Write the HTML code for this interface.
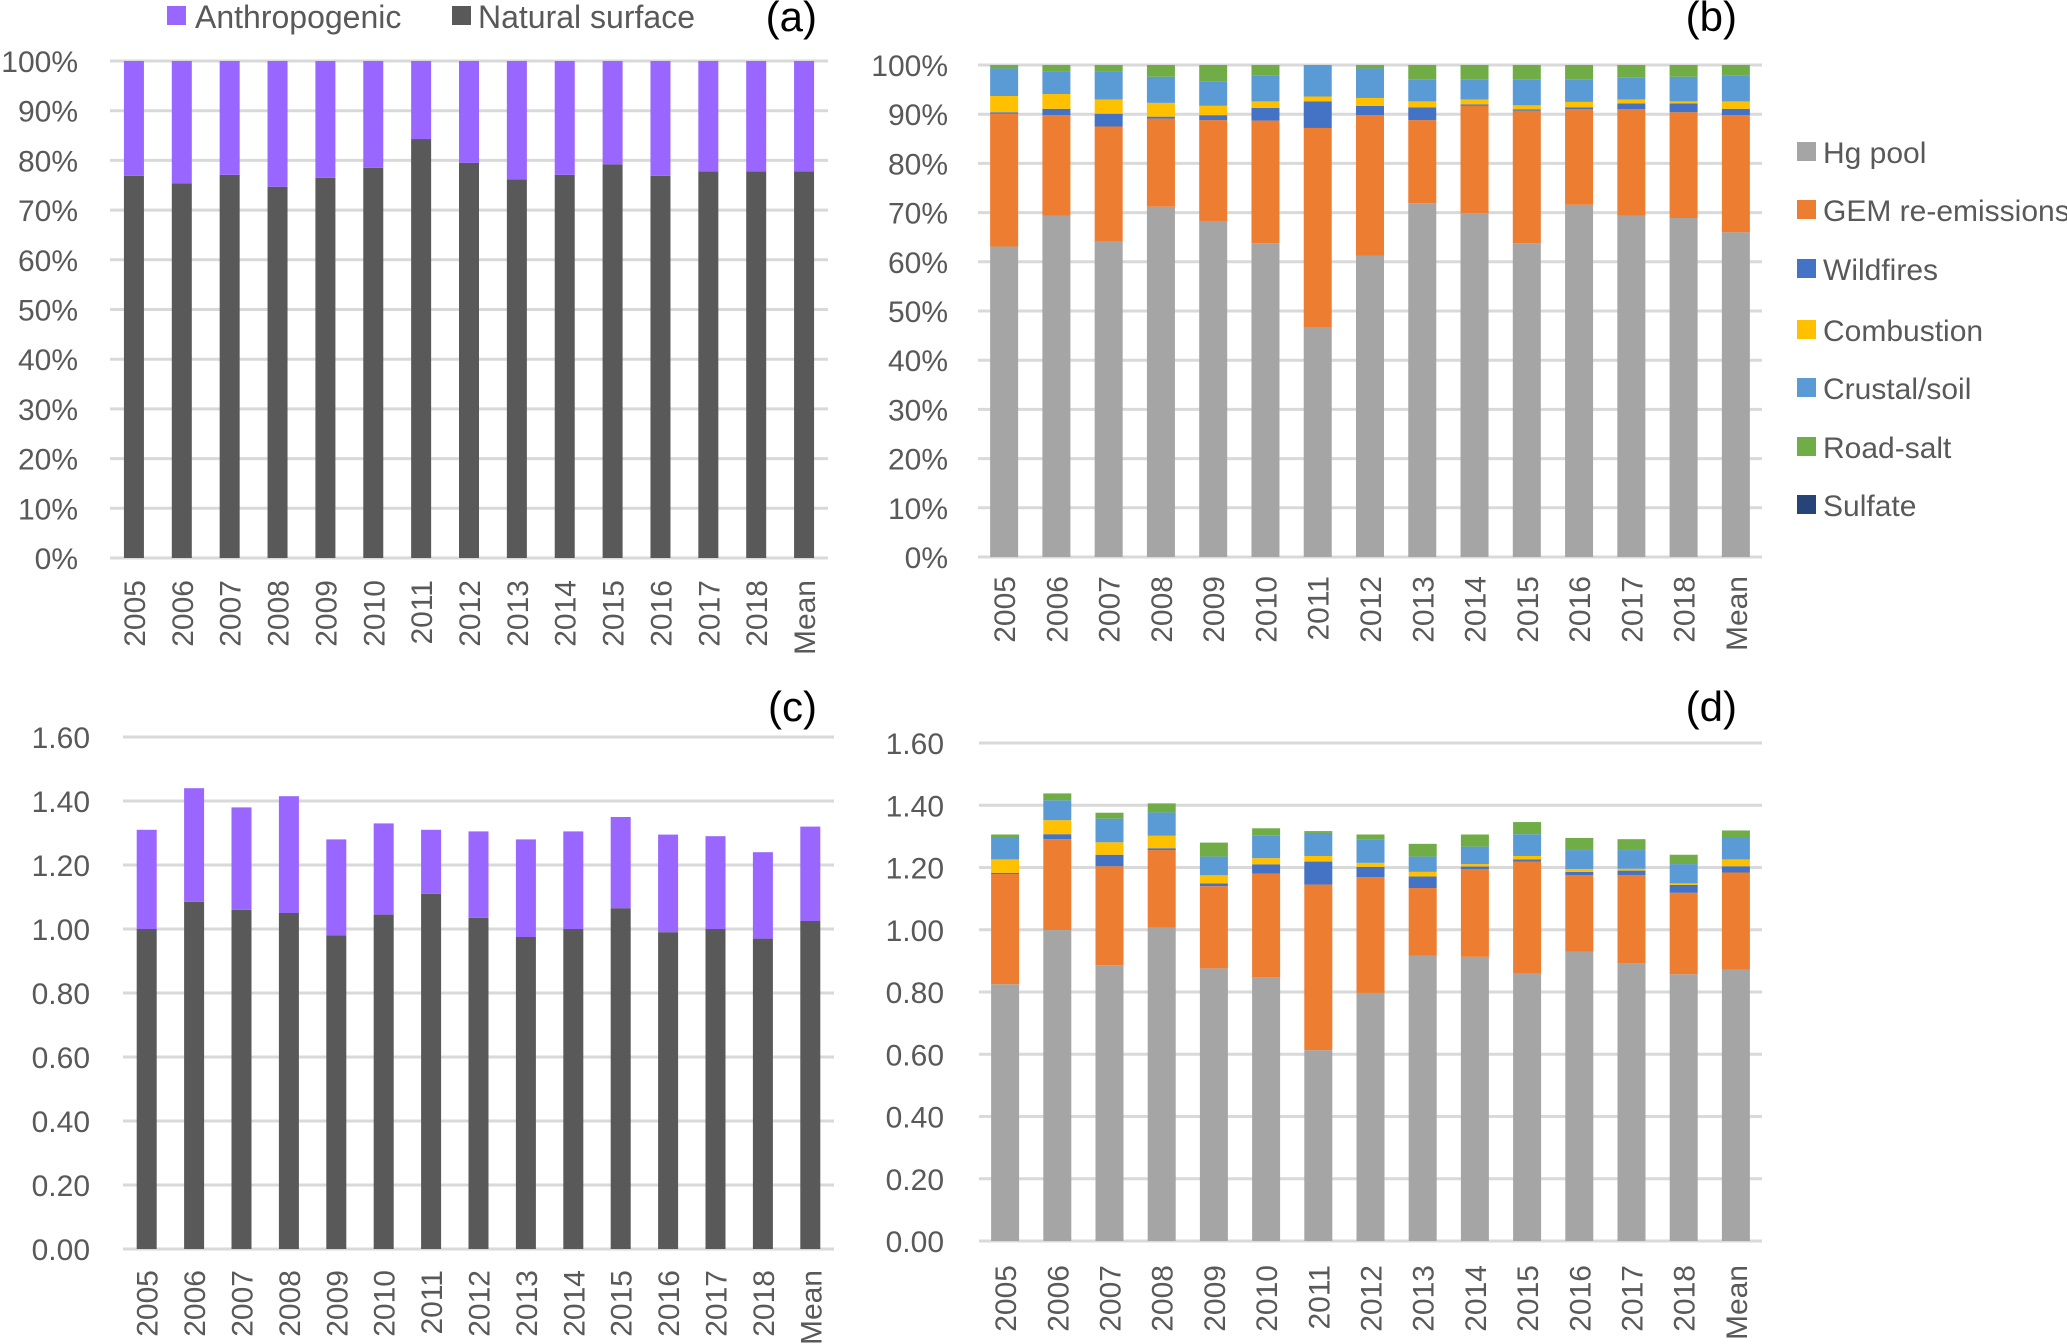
<!DOCTYPE html>
<html><head><meta charset="utf-8"><style>
html,body{margin:0;padding:0;background:#fff;}
svg{display:block;font-family:"Liberation Sans",sans-serif;}
</style></head><body>
<svg id="chart" width="2067" height="1344" viewBox="0 0 2067 1344" xmlns="http://www.w3.org/2000/svg"></svg>
<script>
const categories = ["2005","2006","2007","2008","2009","2010","2011","2012","2013","2014","2015","2016","2017","2018","Mean"];
// Panel (a) percent
const aNatural = [76.9,75.4,77.1,74.7,76.5,78.5,84.3,79.5,76.2,77.1,79.2,76.9,77.8,77.8,77.8];
const aAnthro = [23.1,24.6,22.9,25.3,23.5,21.5,15.7,20.5,23.8,22.9,20.8,23.1,22.2,22.2,22.2];
// Panel (c) absolute
const cNatural = [1.00,1.085,1.06,1.05,0.98,1.045,1.11,1.035,0.975,1.00,1.065,0.99,1.00,0.97,1.025];
const cAnthro = [0.31,0.355,0.32,0.365,0.30,0.285,0.20,0.27,0.305,0.305,0.285,0.305,0.29,0.27,0.295];
// Panel (b) percent
const bHg = [63.1,69.4,64.1,71.2,68.3,63.8,46.6,61.2,71.9,69.9,63.8,71.6,69.4,68.9,66.0];
const bGem = [27.0,20.4,23.4,17.9,20.5,24.9,40.6,28.6,16.9,21.8,26.9,19.4,21.6,21.5,23.8];
const bWild = [0.3,1.3,2.6,0.4,1.0,2.6,5.4,1.9,2.6,0.3,0.3,0.4,1.2,1.8,1.3];
const bComb = [3.3,3.0,2.9,2.8,1.9,1.3,1.0,1.6,1.2,1.0,0.8,1.1,0.8,0.4,1.5];
const bCrust = [5.6,4.6,5.6,5.3,4.9,5.3,6.3,6.0,4.4,4.0,5.2,4.5,4.4,5.0,5.3];
const bSalt = [0.7,1.3,1.4,2.4,3.4,2.1,0.1,0.7,3.0,3.0,3.0,3.0,2.6,2.4,2.1];
const bSulf = [0,0,0,0,0,0,0,0,0,0,0,0,0,0,0];
// Panel (d) absolute
const dHg = [0.825,0.999,0.886,1.007,0.876,0.847,0.613,0.797,0.917,0.913,0.861,0.929,0.893,0.857,0.872];
const dGem = [0.354,0.292,0.318,0.249,0.264,0.333,0.532,0.372,0.217,0.282,0.358,0.246,0.283,0.262,0.312];
const dWild = [0.004,0.016,0.037,0.006,0.009,0.030,0.074,0.033,0.037,0.008,0.007,0.011,0.014,0.025,0.020];
const dComb = [0.043,0.045,0.040,0.040,0.026,0.020,0.018,0.013,0.015,0.008,0.011,0.009,0.006,0.005,0.022];
const dCrust = [0.072,0.064,0.076,0.075,0.060,0.072,0.074,0.076,0.049,0.056,0.070,0.061,0.060,0.062,0.072];
const dSalt = [0.008,0.022,0.019,0.029,0.045,0.024,0.006,0.015,0.041,0.039,0.039,0.039,0.035,0.030,0.021];
const dSulf = [0,0,0,0,0,0,0,0,0,0,0,0,0,0,0];
const pctTicks = ["0%","10%","20%","30%","40%","50%","60%","70%","80%","90%","100%"];
const absTicks = ["0.00","0.20","0.40","0.60","0.80","1.00","1.20","1.40","1.60"];

const NS="http://www.w3.org/2000/svg";
const svg=document.getElementById("chart");
function mk(tag,attrs,parent){const e=document.createElementNS(NS,tag);for(const k in attrs)e.setAttribute(k,attrs[k]);(parent||svg).appendChild(e);return e;}

function panel(p){
  const g=mk("g",{});
  
  
  const band=(p.x1-p.x0)/categories.length;
  const xs=i=>p.x0+band*(i+0.5);
  const ys=v=>p.y0-(v/p.max)*(p.y0-p.yTop);
  p.ticks.forEach((t,i)=>{
    const v=p.max*i/(p.ticks.length-1);
    const y=ys(v);
    const l=mk("line",{x1:p.x0,x2:p.x1,y1:y,y2:y,stroke:"#d9d9d9","stroke-width":3},g);
    
    
    const tx=mk("text",{x:p.lx,y:y+11,"text-anchor":"end","font-size":30,fill:"#595959"},g);
    tx.textContent=t;
    
    
  });
  categories.forEach((c,i)=>{
    let base=0;
    p.series.forEach(s=>{
      const v=s.vals[i];
      if(v>0){
        const r=mk("rect",{x:xs(i)-p.bw/2,y:ys(base+v),width:p.bw,height:ys(base)-ys(base+v),fill:s.color},g);
        
        
      }
      base+=v;
    });
    const t=mk("text",{transform:`translate(${xs(i)+11},${p.xl}) rotate(-90)`,"text-anchor":"end","font-size":30,fill:"#595959"},g);
    t.textContent=c;
    
    
  });
  const pl=mk("text",{x:p.tagX,y:p.tagY,"text-anchor":"end","font-size":42,fill:"#000"},g);
  pl.textContent=p.tag;
  
  
}
const C={hg:"#a5a5a5",gem:"#ed7d31",wild:"#4472c4",comb:"#ffc000",crust:"#5b9bd5",salt:"#70ad47",sulf:"#264478",anth:"#9966ff",nat:"#595959"};
panel({name:"panel-a",x0:110,x1:828,yTop:61,y0:558,max:100,bw:20,lx:78,xl:580,ticks:pctTicks,tag:"(a)",tagX:817,tagY:31,
  series:[{key:"natural",vals:aNatural,color:C.nat},{key:"anthropogenic",vals:aAnthro,color:C.anth}]});
panel({name:"panel-c",x0:123,x1:834,yTop:737,y0:1249,max:1.6,bw:20,lx:90,xl:1270,ticks:absTicks,tag:"(c)",tagX:817,tagY:721,
  series:[{key:"natural",vals:cNatural,color:C.nat},{key:"anthropogenic",vals:cAnthro,color:C.anth}]});
const bSeries=[{key:"sulfate",vals:bSulf,color:C.sulf},{key:"hg-pool",vals:bHg,color:C.hg},{key:"gem",vals:bGem,color:C.gem},{key:"wildfires",vals:bWild,color:C.wild},{key:"combustion",vals:bComb,color:C.comb},{key:"crustal",vals:bCrust,color:C.crust},{key:"road-salt",vals:bSalt,color:C.salt}];
panel({name:"panel-b",x0:978,x1:1762,yTop:65,y0:557,max:100,bw:28,lx:948,xl:576,ticks:pctTicks,tag:"(b)",tagX:1737,tagY:31,series:bSeries});
const dSeries=[{key:"sulfate",vals:dSulf,color:C.sulf},{key:"hg-pool",vals:dHg,color:C.hg},{key:"gem",vals:dGem,color:C.gem},{key:"wildfires",vals:dWild,color:C.wild},{key:"combustion",vals:dComb,color:C.comb},{key:"crustal",vals:dCrust,color:C.crust},{key:"road-salt",vals:dSalt,color:C.salt}];
panel({name:"panel-d",x0:979,x1:1762,yTop:743,y0:1241,max:1.6,bw:28,lx:944,xl:1265,ticks:absTicks,tag:"(d)",tagX:1737,tagY:721,series:dSeries});

// legend a
const la=[["Anthropogenic",C.anth,167,195],["Natural surface",C.nat,452,478]];
la.forEach(([t,c,sx,tx])=>{
  const r=mk("rect",{x:sx,y:6,width:19,height:19,fill:c});
  
  
  const e=mk("text",{x:tx,y:28,"font-size":32,fill:"#595959"});
  e.textContent=t;
  
  
});
// legend b
const lb=[["Hg pool",C.hg,152],["GEM re-emissions",C.gem,210],["Wildfires",C.wild,269],["Combustion",C.comb,330],["Crustal/soil",C.crust,388],["Road-salt",C.salt,447],["Sulfate",C.sulf,505]];
lb.forEach(([t,c,y])=>{
  const r=mk("rect",{x:1797,y:y-10,width:19,height:19,fill:c});
  
  
  const e=mk("text",{x:1823,y:y+11,"font-size":30,fill:"#595959"});
  e.textContent=t;
  
  
});
</script>
</body></html>
